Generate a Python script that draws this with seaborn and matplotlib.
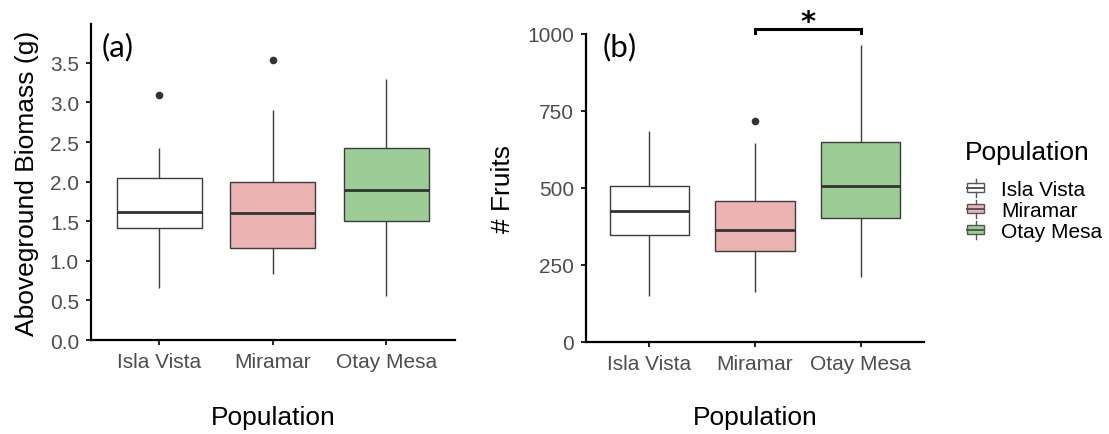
import numpy as np
import pandas as pd
import matplotlib
matplotlib.use("Agg")
import matplotlib.pyplot as plt
import seaborn as sns
from matplotlib.legend_handler import HandlerBase
from matplotlib.patches import Rectangle, Patch
from matplotlib.lines import Line2D

# ---------------- data ----------------
populations = ["Isla Vista", "Miramar", "Otay Mesa"]
pop_colors = ["#FFFFFF", "#ECB3B3", "#9CCD97"]

# five-number readings: lower whisker, Q1, median, Q3, upper whisker
biomass_isla_vista = [0.66, 1.42, 1.62, 2.05, 2.43]
biomass_miramar = [0.84, 1.16, 1.61, 2.00, 2.91]
biomass_otay_mesa = [0.56, 1.50, 1.90, 2.43, 3.29]
biomass_outliers_isla_vista = [3.10]
biomass_outliers_miramar = [3.53]
biomass_outliers_otay_mesa = []

fruits_isla_vista = [147, 347, 424, 506, 683]
fruits_miramar = [162, 293, 363, 456, 645]
fruits_otay_mesa = [209, 401, 505, 650, 962]
fruits_outliers_isla_vista = []
fruits_outliers_miramar = [715]
fruits_outliers_otay_mesa = []

biomass_ticks = [0.0, 0.5, 1.0, 1.5, 2.0, 2.5, 3.0, 3.5]
fruits_ticks = [0, 250, 500, 750, 1000]


def sample(five, outliers):
    """Observations whose quartiles/whiskers reproduce the read values."""
    mn, q1, md, q3, mx = five
    if not outliers:
        return [mn, q1, md, q3, mx]
    return [mn, q1, q1, md, md, q3, q3, mx] + list(outliers)


def long_frame(col, sets):
    rows = []
    for pop, (five, outl) in zip(populations, sets):
        for v in sample(five, outl):
            rows.append({"Population": pop, col: v})
    return pd.DataFrame(rows)


df_bio = long_frame("Biomass", [(biomass_isla_vista, biomass_outliers_isla_vista),
                                (biomass_miramar, biomass_outliers_miramar),
                                (biomass_otay_mesa, biomass_outliers_otay_mesa)])
df_fr = long_frame("Fruits", [(fruits_isla_vista, fruits_outliers_isla_vista),
                              (fruits_miramar, fruits_outliers_miramar),
                              (fruits_otay_mesa, fruits_outliers_otay_mesa)])

# ---------------- style ----------------
plt.rcParams["font.family"] = ["Liberation Sans", "DejaVu Sans"]
palette = dict(zip(populations, pop_colors))
EDGE = "#3c3c3c"
TICKCOL = "#4D4D4D"

fig = plt.figure(figsize=(11.09, 4.35), dpi=100)
ax1 = fig.add_axes([0.082, 0.216, 0.328, 0.7265])
ax2 = fig.add_axes([0.5284, 0.2122, 0.3048, 0.708])

box_kw = dict(x="Population", hue="Population", order=populations,
              hue_order=populations, palette=palette, saturation=1,
              width=0.75, linewidth=1.0, linecolor=EDGE, fliersize=4.5,
              flierprops=dict(marker="o", markerfacecolor="#333333",
                              markeredgecolor="#333333"),
              medianprops=dict(linewidth=2.0, color="#333333"),
              capprops=dict(linewidth=0), legend=False)

sns.boxplot(data=df_bio, y="Biomass", ax=ax1, **box_kw)
sns.boxplot(data=df_fr, y="Fruits", ax=ax2, **box_kw)

for ax in (ax1, ax2):
    ax.set_xlim(-0.6, 2.6)
    for s in ("top", "right"):
        ax.spines[s].set_visible(False)
    for s in ("left", "bottom"):
        ax.spines[s].set_linewidth(1.6)
        ax.spines[s].set_color("black")
    ax.tick_params(axis="both", length=3.6, width=1.4, color="#222222",
                   labelsize=15, labelcolor=TICKCOL)
    ax.tick_params(axis="x", pad=5)
    ax.tick_params(axis="y", pad=5)
    ax.set_xlabel("Population", fontsize=19, color="black")
    ax.xaxis.set_label_coords(0.5, -0.205)
    ax.patch.set_alpha(0)

ax1.set_ylim(0, 3.99)
ax1.set_yticks(biomass_ticks)
ax1.set_yticklabels([f"{t:.1f}" for t in biomass_ticks])
ax1.set_ylabel("Aboveground Biomass (g)", fontsize=19, labelpad=8)

ax2.set_ylim(0, 1000)
ax2.set_yticks(fruits_ticks)
ax2.set_yticklabels([str(t) for t in fruits_ticks])
ax2.set_ylabel("# Fruits", fontsize=19, labelpad=9)

# significance bracket between Miramar and Otay Mesa
ax2.plot([1, 1, 2, 2], [1003, 1016, 1016, 1003], color="black", lw=2.2,
         clip_on=False, solid_joinstyle="miter")
ax2.text(1.5, 1038, "*", ha="center", va="center", fontsize=21,
         fontweight="bold", clip_on=False, family="DejaVu Sans")

# panel letters
fig.text(102 / 1109, 1 - 47 / 435, "(a)", fontsize=22.5, family=["Lato", "DejaVu Sans"],
         ha="left", va="center")
fig.text(603 / 1109, 1 - 47 / 435, "(b)", fontsize=22.5, family=["Lato", "DejaVu Sans"],
         ha="left", va="center")


# legend with small box-plot glyphs
class BoxGlyph(HandlerBase):
    def create_artists(self, legend, orig_handle, xdescent, ydescent, width,
                       height, fontsize, trans):
        fc = orig_handle.get_facecolor()
        bw = width * 0.95
        x0 = -xdescent + (width - bw) / 2
        bh = height * 0.6
        y0 = -ydescent + (height - bh) / 2
        cx = -xdescent + width / 2
        rect = Rectangle((x0, y0), bw, bh, facecolor=fc, edgecolor="#555555",
                         lw=1.0, transform=trans)
        med = Line2D([x0, x0 + bw], [y0 + bh / 2] * 2, color="#555555",
                     lw=1.4, transform=trans)
        w1 = Line2D([cx, cx], [y0 + bh, -ydescent + height * 1.1],
                    color="#555555", lw=1.0, transform=trans)
        w2 = Line2D([cx, cx], [-ydescent - height * 0.1, y0],
                    color="#555555", lw=1.0, transform=trans)
        return [rect, med, w1, w2]


fig.text(965 / 1109, 1 - 153 / 435, "Population", fontsize=19,
         ha="left", va="center")
handles = [Patch(facecolor=c, edgecolor="#555555") for c in pop_colors]
leg = fig.legend(handles, populations,
                 handler_map={Patch: BoxGlyph()},
                 loc="upper left", bbox_to_anchor=(967 / 1109, 1 - 181 / 435),
                 frameon=False, fontsize=15,
                 handlelength=0.85, handleheight=0.75, handletextpad=0.78,
                 labelspacing=0.1, borderaxespad=0, borderpad=0)

fig.savefig("out.png", dpi=100)
